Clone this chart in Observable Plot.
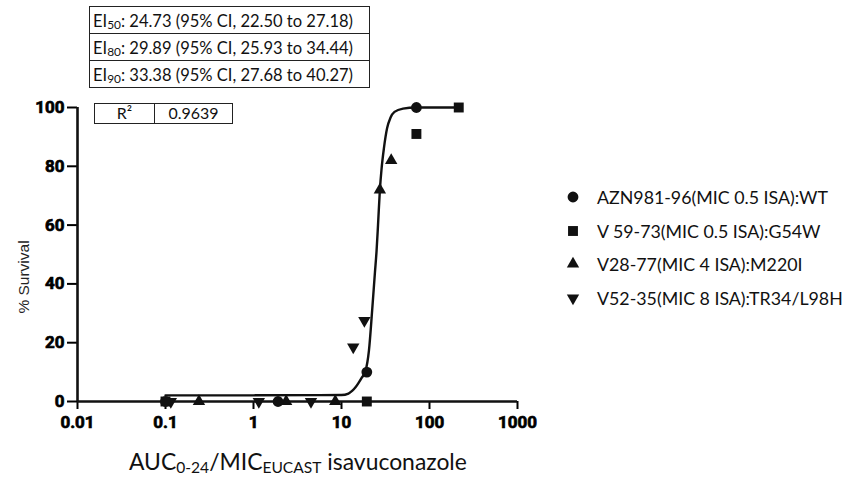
<!DOCTYPE html>
<html>
<head>
<meta charset="utf-8">
<script src="https://cdn.jsdelivr.net/npm/d3@7"></script>
<script src="https://cdn.jsdelivr.net/npm/@observablehq/plot@0.6"></script>
<style>
  html, body { margin: 0; padding: 0; background: #fff; }
  #wrap { position: relative; width: 844px; height: 478px; overflow: hidden; font-family: Lato, "Open Sans", sans-serif; color: #111; }
  #chart { position: absolute; left: 0; top: 0; }
  #chart svg text { font-weight: 700 !important; font-family: Roboto, "Liberation Sans", Arial, sans-serif !important; font-size: 17px !important; fill: #000 !important; stroke: #000; stroke-width: 0.7px; paint-order: stroke; }
  .box { position: absolute; border: 1.5px solid #222; box-sizing: border-box; }
  .eirow { position: absolute; left: 0; right: 0; height: 27px; line-height: 27px; font-size: 17px; padding-left: 3px; white-space: nowrap; }
  .eirow span { display: inline-block; }
  .eirow.sep { border-top: 1.5px solid #222; }
  .eirow sub { font-size: 0.72em; vertical-align: -2px; line-height: 0; }
  .r2cell { position: absolute; top: 0; bottom: 0; text-align: center; font-size: 16px; line-height: 18px; white-space: nowrap; }
  .r2cell span { display: inline-block; }
  #legend { position: absolute; left: 560px; top: 185px; }
  .leg { position: absolute; left: 0; height: 24px; width: 300px; white-space: nowrap; font-size: 17px; line-height: 24px; }
  .leg svg { position: absolute; left: 5px; top: 4px; }
  .leg span { position: absolute; left: 37px; }
  #xtitle { position: absolute; left: 129px; top: 447px; font-size: 19px; white-space: nowrap; }
  #xtitle sub { font-size: 0.68em; vertical-align: -3px; line-height: 0; }
  #ytitle { position: absolute; left: 24px; top: 277px; transform: translate(-50%, -50%) rotate(-90deg); font-family: "Liberation Sans", Arial, sans-serif; font-size: 15.5px; white-space: nowrap; color: #222; }
</style>
</head>
<body>
<div id="wrap">
  <div id="chart"></div>
  <div class="box" style="left:89px; top:6px; width:281px; height:82px;">
    <div class="eirow" style="top:0px;"><span>EI<sub>50</sub>: 24.73 (95% CI, 22.50 to 27.18)</span></div>
    <div class="eirow sep" style="top:26px;"><span>EI<sub>80</sub>: 29.89 (95% CI, 25.93 to 34.44)</span></div>
    <div class="eirow sep" style="top:53px;"><span>EI<sub>90</sub>: 33.38 (95% CI, 27.68 to 40.27)</span></div>
  </div>
  <div class="box" style="left:94px; top:103px; width:139px; height:21px;">
    <div class="r2cell" style="left:0; width:59px; border-right:1.5px solid #222;"><span>R²</span></div>
    <div class="r2cell" style="left:60px; right:0;"><span id="r2val">0.9639</span></div>
  </div>
  <div id="legend"></div>
  <div id="xtitle">AUC<sub>0-24</sub>/MIC<sub>EUCAST</sub> isavuconazole</div>
  <div id="ytitle">% Survival</div>
</div>
<script>
// ---- data ----
const seriesNames = [
  "AZN981-96(MIC 0.5 ISA):WT",
  "V 59-73(MIC 0.5 ISA):G54W",
  "V28-77(MIC 4 ISA):M220I",
  "V52-35(MIC 8 ISA):TR34/L98H"
];
const wtX   = [0.1, 1.9, 19.4, 71];
const wtY   = [0, 0, 10, 100];
const g54wX = [0.1, 19.4, 71, 215];
const g54wY = [0, 0, 91, 100];
const m220iX = [0.24, 2.35, 8.5, 27.3, 36.7];
const m220iY = [0, 0, 0, 72, 82];
const tr34X = [0.115, 1.15, 4.5, 13.6, 18.2];
const tr34Y = [0, 0, 0, 18.5, 27.5];
// fitted curve
const fitX = [0.1, 1, 10, 12, 13.2, 14.5, 15.7, 17, 18.7, 20.5, 22.3, 24, 25, 26, 27.3, 28.5, 30.3, 33, 36, 40, 50, 70, 215];
const fitY = [2.1, 2.1, 2.2, 2.7, 3.6, 4.9, 6.4, 8.1, 10.3, 17.3, 31, 44, 51, 60, 72, 79, 86, 93, 96.5, 98.5, 99.6, 100, 100];
const xTicks = [0.01, 0.1, 1, 10, 100, 1000];
const xTickLabels = ["0.01", "0.1", "1", "10", "100", "1000"];
const yTicks = [0, 20, 40, 60, 80, 100];

const zip = (xs, ys) => xs.map((x, i) => ({x, y: ys[i]}));
const wt = zip(wtX, wtY), g54w = zip(g54wX, g54wY), m220i = zip(m220iX, m220iY), tr34 = zip(tr34X, tr34Y);
const fit = zip(fitX, fitY);

const plot = Plot.plot({
  width: 844,
  height: 478,
  marginLeft: 77,
  marginRight: 327,
  marginTop: 107,
  marginBottom: 77,
  style: {background: "transparent", color: "#000", overflow: "visible", fontSize: "17px"},
  x: {type: "log", domain: [0.01, 1000]},
  y: {domain: [0, 100]},
  marks: [
    Plot.axisX({ticks: xTicks, tickFormat: (d) => xTickLabels[xTicks.indexOf(d)], tickSize: 8, tickPadding: 6, strokeWidth: 2, label: null, fontSize: 17}),
    Plot.axisY({ticks: yTicks, tickSize: 10, tickPadding: 3, strokeWidth: 2, label: null, fontSize: 17}),
    Plot.ruleY([0], {x1: 0.01, x2: 1000, strokeWidth: 2.6, stroke: "#111"}),
    Plot.ruleX([0.01], {y1: 0, y2: 100, strokeWidth: 2.6, stroke: "#111"}),
    Plot.line(fit, {x: "x", y: "y", curve: "monotone-x", stroke: "#111", strokeWidth: 2.4}),
    Plot.dot(m220i, {x: "x", y: "y", symbol: "triangle", r: 4.6, fill: "#111", stroke: "none"}),
    Plot.dot(tr34, {x: "x", y: "y", symbol: "triangle", rotate: 180, r: 4.6, fill: "#111", stroke: "none"}),
    Plot.dot(g54w, {x: "x", y: "y", symbol: "square", r: 5.6, fill: "#111", stroke: "none"}),
    Plot.dot(wt, {x: "x", y: "y", symbol: "circle", r: 5.4, fill: "#111", stroke: "none"})
  ]
});
document.getElementById("chart").appendChild(plot);
d3.select(plot).selectAll("text")
  .attr("font-weight", "bold").attr("fill", "#000")
  .style("font-weight", "700").style("stroke", "#000").style("stroke-width", "0.7px");

// legend
const legendSymbols = [
  d3.symbol(d3.symbolCircle, 92)(),
  d3.symbol(d3.symbolSquare, 98)(),
  d3.symbol(d3.symbolTriangle, 66)(),
  d3.symbol(d3.symbolTriangle, 66)()
];
const legendRot = [0, 0, 0, 180];
const legend = document.getElementById("legend");
const legSpans = [];
seriesNames.forEach((name, i) => {
  const row = document.createElement("div");
  row.className = "leg";
  row.style.top = (i * 33.7) + "px";
  row.innerHTML = `<svg width="16" height="16"><path d="${legendSymbols[i]}" transform="translate(8,8) rotate(${legendRot[i]})" fill="#111"/></svg><span>${name}</span>`;
  legend.appendChild(row);
  legSpans.push(row.querySelector("span"));
});

// scale text so that its width matches the reference
function fitWidth(el, target) {
  const fs = parseFloat(getComputedStyle(el).fontSize);
  const w = el.getBoundingClientRect().width;
  if (w > 0) el.style.fontSize = (fs * target / w).toFixed(2) + "px";
}
fitWidth(document.querySelector(".eirow span"), 260);
const eiSize = document.querySelector(".eirow span").style.fontSize;
document.querySelectorAll(".eirow span").forEach(s => s.style.fontSize = eiSize);
fitWidth(legSpans[3], 246);
legSpans.forEach(s => s.style.fontSize = legSpans[3].style.fontSize);
fitWidth(document.getElementById("xtitle"), 338);
fitWidth(document.getElementById("r2val"), 50);
document.querySelector(".r2cell span").style.fontSize = document.getElementById("r2val").style.fontSize;
</script>
</body>
</html>
